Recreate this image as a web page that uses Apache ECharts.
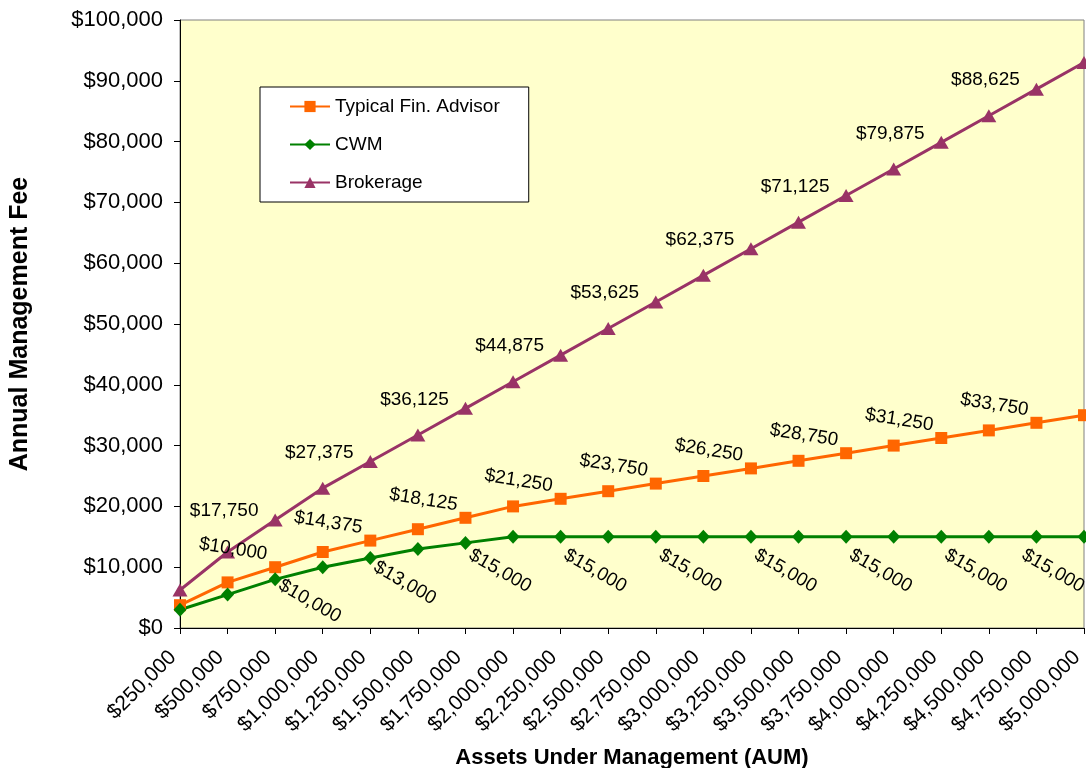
<!DOCTYPE html>
<html><head><meta charset="utf-8">
<script src="https://cdn.jsdelivr.net/npm/echarts@6/dist/echarts.min.js"></script>
<style>html,body{margin:0;padding:0;background:#fff}#c{width:1086px;height:768px}</style>
</head><body><div id="c"></div>
<script>
const categories = ['$250,000','$500,000','$750,000','$1,000,000','$1,250,000','$1,500,000','$1,750,000','$2,000,000','$2,250,000','$2,500,000','$2,750,000','$3,000,000','$3,250,000','$3,500,000','$3,750,000','$4,000,000','$4,250,000','$4,500,000','$4,750,000','$5,000,000'];
const tfaValues = [3750,7500,10000,12500,14375,16250,18125,20000,21250,22500,23750,25000,26250,27500,28750,30000,31250,32500,33750,35000];
const cwmValues = [3000,5500,8000,10000,11500,13000,14000,15000,15000,15000,15000,15000,15000,15000,15000,15000,15000,15000,15000,15000];
const brokerageValues = [6250,12500,17750,23000,27375,31750,36125,40500,44875,49250,53625,58000,62375,66750,71125,75500,79875,84250,88625,93000];
const tfaLabeled = ['$750,000','$1,250,000','$1,750,000','$2,250,000','$2,750,000','$3,250,000','$3,750,000','$4,250,000','$4,750,000'];
const cwmLabeled = ['$1,000,000','$1,500,000','$2,000,000','$2,500,000','$3,000,000','$3,500,000','$4,000,000','$4,500,000','$5,000,000'];
const brokerageLabeled = ['$750,000','$1,250,000','$1,750,000','$2,250,000','$2,750,000','$3,250,000','$3,750,000','$4,250,000','$4,750,000'];
const yMin = 0, yMax = 100000, yStep = 10000;

const FONT = '"Liberation Sans", Arial, sans-serif';
const money = v => '$' + Number(v).toLocaleString('en-US');

// convert a wanted on-screen offset into the label's rotated local frame
function localOffset(dx, dy, deg) {
  const r = deg * Math.PI / 180, c = Math.cos(r), s = Math.sin(r);
  return [dx * c - dy * s, dx * s + dy * c];
}
// labels on the last category are nudged left so they stay inside the chart
function makeData(values, labeled, dx, dy, deg) {
  const last = categories.length - 1;
  return values.map((v, i) => ({
    value: v,
    label: {
      show: labeled.includes(categories[i]),
      offset: localOffset(i === last ? dx - 18 : dx, dy, deg)
    }
  }));
}

const chart = echarts.init(document.getElementById('c'), null, { renderer: 'canvas' });
chart.setOption({
  animation: false,
  backgroundColor: '#ffffff',
  textStyle: { fontFamily: FONT },
  grid: { left: 180, right: 2, top: 20, bottom: 140, containLabel: false, outerBoundsMode: 'none',
          show: true, backgroundColor: '#FFFFCC', borderColor: '#808080', borderWidth: 1 },
  legend: {
    orient: 'vertical', left: 260, top: 87,
    backgroundColor: '#ffffff', borderColor: '#000000', borderWidth: 1,
    padding: [9, 29, 9, 29], itemGap: 17, itemWidth: 40, itemHeight: 14,
    textStyle: { fontSize: 19, color: '#000', fontFamily: FONT, lineHeight: 21 },
    data: ['Typical Fin. Advisor', 'CWM', 'Brokerage']
  },
  xAxis: {
    type: 'category', data: categories, boundaryGap: false,
    axisLine: { lineStyle: { color: '#000', width: 1 } },
    axisTick: { show: true, length: 6, lineStyle: { color: '#000' }, alignWithLabel: true },
    axisLabel: { rotate: 45, fontSize: 21, color: '#000', margin: 19, padding: [0, 10, 0, 0], interval: 0, fontFamily: FONT },
    splitLine: { show: false },
    name: 'Assets Under Management (AUM)', nameLocation: 'middle', nameGap: 119,
    nameTextStyle: { fontSize: 22, fontWeight: 'bold', color: '#000', fontFamily: FONT }
  },
  yAxis: {
    type: 'value', min: yMin, max: yMax, interval: yStep,
    axisLine: { show: true, lineStyle: { color: '#000', width: 1 } },
    axisTick: { show: true, length: 6, lineStyle: { color: '#000' } },
    axisLabel: { fontSize: 22, color: '#000', margin: 17, formatter: money, fontFamily: FONT },
    splitLine: { show: false },
    name: 'Annual Management Fee', nameLocation: 'middle', nameGap: 147,
    nameTextStyle: { fontSize: 25, fontWeight: 'bold', color: '#000', fontFamily: FONT }
  },
  series: [
    {
      name: 'Typical Fin. Advisor', type: 'line', data: makeData(tfaValues, tfaLabeled, -42, -18, -9),
      symbol: 'rect', symbolSize: 12, color: '#FF6600',
      lineStyle: { width: 3, color: '#FF6600' }, itemStyle: { color: '#FF6600' },
      label: { position: 'inside', rotate: -9, fontSize: 19, color: '#000', formatter: p => money(p.value), fontFamily: FONT },
      z: 3
    },
    {
      name: 'CWM', type: 'line', data: makeData(cwmValues, cwmLabeled, -13, 34, -30),
      symbol: 'diamond', symbolSize: [13, 14], color: '#008000',
      lineStyle: { width: 3, color: '#008000' }, itemStyle: { color: '#008000' },
      label: { position: 'inside', rotate: -30, fontSize: 19, color: '#000', formatter: p => money(p.value), fontFamily: FONT },
      z: 3
    },
    {
      name: 'Brokerage', type: 'line', data: makeData(brokerageValues, brokerageLabeled, -51, -9, 0),
      symbol: 'triangle', symbolSize: [15, 13], color: '#993366',
      lineStyle: { width: 3, color: '#993366' }, itemStyle: { color: '#993366' },
      label: { position: 'inside', fontSize: 19, color: '#000', formatter: p => money(p.value), fontFamily: FONT },
      z: 3
    }
  ]
});
</script></body></html>
